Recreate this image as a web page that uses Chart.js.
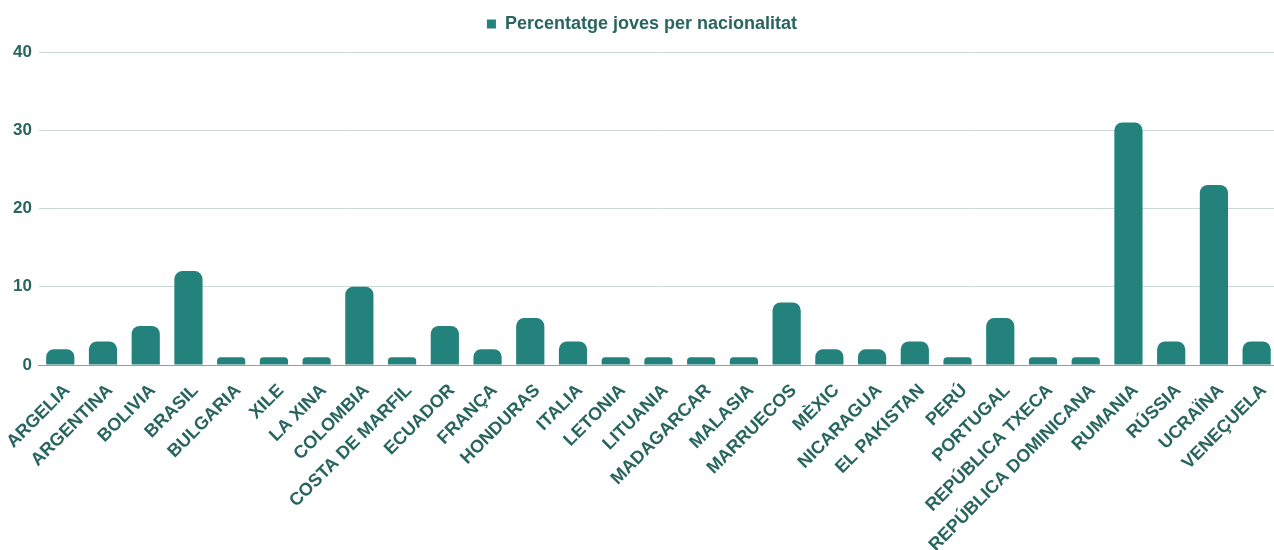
<!DOCTYPE html>
<html>
<head>
<meta charset="utf-8">
<script src="https://cdn.jsdelivr.net/npm/chart.js@4/dist/chart.umd.min.js"></script>
<style>
  html, body { margin: 0; padding: 0; background: #fff; overflow: hidden; }
  #wrap { position: relative; width: 1282px; height: 550px; }
</style>
</head>
<body>
<div id="wrap"><canvas id="grafic"></canvas></div>
<script>
// dades llegides del gràfic
const paisos = ['ARGELIA', 'ARGENTINA', 'BOLIVIA', 'BRASIL', 'BULGARIA', 'XILE', 'LA XINA', 'COLOMBIA',
  'COSTA DE MARFIL', 'ECUADOR', 'FRANÇA', 'HONDURAS', 'ITALIA', 'LETONIA', 'LITUANIA', 'MADAGARCAR',
  'MALASIA', 'MARRUECOS', 'MÈXIC', 'NICARAGUA', 'EL PAKISTAN', 'PERÚ', 'PORTUGAL', 'REPÚBLICA TXECA',
  'REPÚBLICA DOMINICANA', 'RUMANIA', 'RÚSSIA', 'UCRAÏNA', 'VENEÇUELA']
const percentatges = [2, 3, 5, 12, 1, 1, 1, 10, 1, 5, 2, 6, 3, 1, 1, 1, 1, 8, 2, 2, 3, 1, 6, 1, 1, 31, 3, 23, 3]
const ticksY = [0, 10, 20, 30, 40]

const colorBarra = '#24827c'
const colorText = '#28655f'

// espai extra sota la llegenda
const espaiLlegenda = {
  id: 'espaiLlegenda',
  beforeInit(chart) {
    const fitOriginal = chart.legend.fit
    chart.legend.fit = function () {
      fitOriginal.bind(chart.legend)()
      this.height += 9
    }
  }
}

const ctx = document.getElementById('grafic').getContext('2d')
new Chart(ctx, {
  type: 'bar',
  data: {
    labels: paisos,
    datasets: [{
      label: 'Percentatge joves per nacionalitat',
      data: percentatges,
      backgroundColor: colorBarra,
      borderRadius: 8,
      borderSkipped: 'bottom',
      barPercentage: 0.66,
      categoryPercentage: 1
    }]
  },
  plugins: [espaiLlegenda],
  options: {
    responsive: true,
    maintainAspectRatio: false,
    animation: false,
    layout: { padding: { left: 6, right: 4, top: 3, bottom: 0 } },
    plugins: {
      tooltip: { enabled: false },
      legend: {
        position: 'top',
        labels: {
          color: colorText,
          boxWidth: 9,
          boxHeight: 9,
          padding: 12,
          font: { family: 'Liberation Sans', size: 18, weight: 'bold' }
        }
      }
    },
    scales: {
      x: {
        grid: { display: false, drawTicks: false },
        border: { display: true, color: '#7fa8a4', width: 1 },
        afterFit: (scale) => {
          scale.paddingLeft = 0
          scale.paddingRight = 0
          scale.height = 185
        },
        ticks: {
          color: colorText,
          autoSkip: false,
          maxRotation: 45,
          minRotation: 45,
          padding: 15,
          labelOffset: 7,
          font: { family: 'Liberation Sans', size: 18, weight: 'bold' }
        }
      },
      y: {
        min: 0,
        max: 40,
        afterBuildTicks: (scale) => {
          scale.ticks = ticksY.map(v => ({ value: v }))
        },
        grid: { color: '#c9d8d6', drawTicks: false },
        border: { display: false },
        ticks: {
          color: colorText,
          padding: 7,
          font: { family: 'Liberation Sans', size: 17, weight: 'bold' }
        }
      }
    }
  }
})
</script>
</body>
</html>
